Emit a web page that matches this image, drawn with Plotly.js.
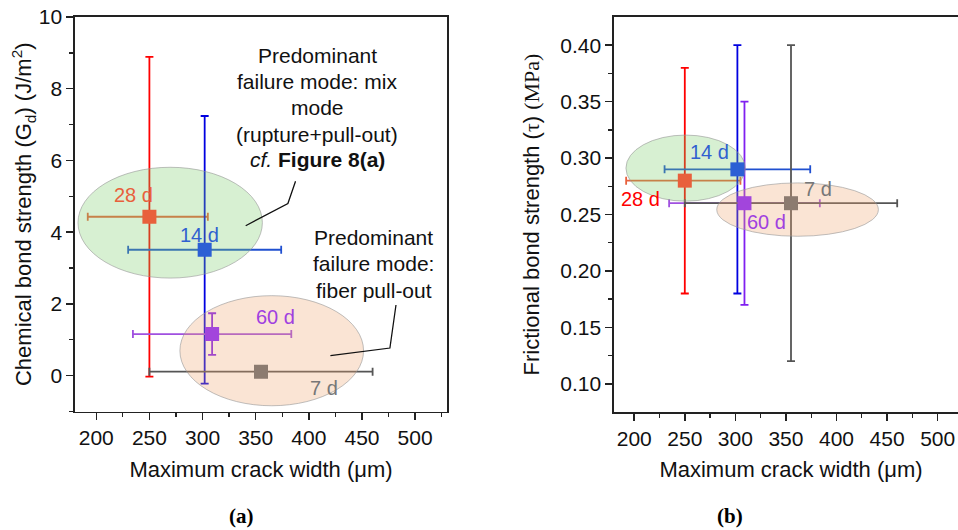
<!DOCTYPE html>
<html>
<head>
<meta charset="utf-8">
<script src="https://cdn.plot.ly/plotly-3.0.1.min.js"></script>
<style>
html,body{margin:0;padding:0;overflow:hidden;background:#fff;}
#wrap{position:relative;width:980px;height:530px;}
#chart,#top{position:absolute;left:0;top:0;width:980px;height:530px;}
#top{pointer-events:none;}
</style>
</head>
<body>
<div id="wrap"><div id="chart"></div><div id="top"></div></div>
<script>
// ---- data ----
var ages = ['28 d', '14 d', '60 d', '7 d'];
var crackWidth = [250, 302, 309, 355];
var crackErrPlus = [55, 72, 74.5, 105];
var crackErrMinus = [58, 72, 74.5, 105];
var chemBond = [4.43, 3.51, 1.16, 0.11];
var chemBondErr = [4.46, 3.73, 0.58, 0];
var fricBond = [0.28, 0.29, 0.26, 0.26];
var fricBondErr = [0.10, 0.11, 0.09, 0.14];

var markerColors = ['#e8603c', '#2c5fd4', '#a245dc', '#8c7b70'];
var errYColors = ['#ff0000', '#0000e0', '#8020f0', '#555555'];
var errXColors = ['#e8603c', '#2050d0', '#a050e0', '#555555'];
var labelColorsA = ['#e8603c', '#3060d0', '#a040e0', '#777777'];
var labelColorsB = ['#ff0000', '#3060d0', '#a040e0', '#777777'];

// label positions (data coords)
var labelXA = [235, 297.5, 368.7, 414.7];
var labelYA = [5.05, 3.93, 1.63, -0.35];
var labelXB = [206.6, 274.4, 331, 381.8];
var labelYB = [0.2634, 0.305, 0.2434, 0.273];

// ellipses [x0,x1,y0,y1]
var ellipseGreenA = [182.8, 356.3, 2.72, 5.81];
var ellipseOrangeA = [278.7, 451.5, -0.84, 2.23];
var ellipseGreenB = [191.8, 309.8, 0.2618, 0.3204];
var ellipseOrangeB = [281.6, 441.4, 0.2307, 0.278];

// leader lines
var leader1X = [340.6, 380.3, 387.5];
var leader1Y = [4.18, 4.80, 5.42];
var leader2X = [420.3, 476.3, 482];
var leader2Y = [0.56, 0.77, 1.97];

// note texts, one entry per line
var note1Lines = ['Predominant', 'failure mode: mix', 'mode', '(rupture+pull-out)', '<i>cf.</i> <b>Figure 8(a)</b>'];
var note1X = 408;
var note1Y = [8.92, 8.21, 7.47, 6.72, 6.02];
var note2Lines = ['Predominant', 'failure mode:', 'fiber pull-out'];
var note2X = 461;
var note2Y = [3.84, 3.12, 2.37];

var W = 980, H = 530;
var FONT = 'Liberation Sans, Arial, sans-serif';

// ---- bottom layer: error bars, axes, ellipses ----
var traces = [];
var markerTraces = [];
for (var i = 0; i < ages.length; i++) {
  traces.push({
    type: 'scatter', mode: 'markers', name: ages[i],
    x: [crackWidth[i]], y: [chemBond[i]], xaxis: 'x', yaxis: 'y',
    marker: {symbol: 'square', size: 14, color: 'rgba(0,0,0,0)'},
    error_x: {type: 'data', symmetric: false, array: [crackErrPlus[i]], arrayminus: [crackErrMinus[i]], color: errXColors[i], thickness: 1.8, width: 4},
    error_y: {type: 'data', array: [chemBondErr[i]], color: errYColors[i], thickness: 1.8, width: 4, visible: chemBondErr[i] > 0},
    showlegend: false, hoverinfo: 'none'
  });
  traces.push({
    type: 'scatter', mode: 'markers', name: ages[i],
    x: [crackWidth[i]], y: [fricBond[i]], xaxis: 'x2', yaxis: 'y2',
    marker: {symbol: 'square', size: 14, color: 'rgba(0,0,0,0)'},
    error_x: {type: 'data', symmetric: false, array: [crackErrPlus[i]], arrayminus: [crackErrMinus[i]], color: errXColors[i], thickness: 1.8, width: 4},
    error_y: {type: 'data', array: [fricBondErr[i]], color: errYColors[i], thickness: 1.8, width: 4},
    showlegend: false, hoverinfo: 'none'
  });
  markerTraces.push({
    type: 'scatter', mode: 'markers', name: ages[i],
    x: [crackWidth[i]], y: [chemBond[i]], xaxis: 'x', yaxis: 'y',
    marker: {symbol: 'square', size: 14, color: markerColors[i]},
    showlegend: false, hoverinfo: 'none'
  });
  markerTraces.push({
    type: 'scatter', mode: 'markers', name: ages[i],
    x: [crackWidth[i]], y: [fricBond[i]], xaxis: 'x2', yaxis: 'y2',
    marker: {symbol: 'square', size: 14, color: markerColors[i]},
    showlegend: false, hoverinfo: 'none'
  });
}

function ell(e, xr, yr, fill) {
  return {type: 'circle', xref: xr, yref: yr, x0: e[0], x1: e[1], y0: e[2], y1: e[3],
    fillcolor: fill, line: {color: 'rgba(150,150,150,0.6)', width: 1}, layer: 'above'};
}
function pathOf(xs, ys) {
  var p = 'M' + xs[0] + ',' + ys[0];
  for (var k = 1; k < xs.length; k++) p += ' L' + xs[k] + ',' + ys[k];
  return p;
}
var GREEN = 'rgba(122,205,105,0.3)';
var ORANGE = 'rgba(238,165,112,0.3)';
var shapes = [
  ell(ellipseGreenA, 'x', 'y', GREEN),
  ell(ellipseOrangeA, 'x', 'y', ORANGE),
  ell(ellipseGreenB, 'x2', 'y2', GREEN),
  ell(ellipseOrangeB, 'x2', 'y2', ORANGE),
  {type: 'path', xref: 'x', yref: 'y', path: pathOf(leader1X, leader1Y), line: {color: '#111', width: 1.3}, layer: 'above'},
  {type: 'path', xref: 'x', yref: 'y', path: pathOf(leader2X, leader2Y), line: {color: '#111', width: 1.3}, layer: 'above'}
];

var annotations = [];
for (var j = 0; j < ages.length; j++) {
  annotations.push({xref: 'x', yref: 'y', x: labelXA[j], y: labelYA[j], text: ages[j], showarrow: false,
    font: {family: FONT, size: 20, color: labelColorsA[j]}});
  annotations.push({xref: 'x2', yref: 'y2', x: labelXB[j], y: labelYB[j], text: ages[j], showarrow: false,
    font: {family: FONT, size: 20, color: labelColorsB[j]}});
}
for (var a = 0; a < note1Lines.length; a++) {
  annotations.push({xref: 'x', yref: 'y', x: note1X, y: note1Y[a], text: note1Lines[a], showarrow: false,
    font: {family: FONT, size: 21, color: '#111'}});
}
for (var b = 0; b < note2Lines.length; b++) {
  annotations.push({xref: 'x', yref: 'y', x: note2X, y: note2Y[b], text: note2Lines[b], showarrow: false,
    font: {family: FONT, size: 21, color: '#111'}});
}
annotations.push({xref: 'paper', yref: 'paper', x: 227 / W, y: 1 - 516 / H, yanchor: 'middle', text: '<b>(a)</b>', showarrow: false,
  font: {family: 'Liberation Serif, Times New Roman, serif', size: 21, color: '#000'}});
annotations.push({xref: 'paper', yref: 'paper', x: 745 / W, y: 1 - 516 / H, yanchor: 'middle', text: '<b>(b)</b>', showarrow: false,
  font: {family: 'Liberation Serif, Times New Roman, serif', size: 21, color: '#000'}});

var XRANGE = [180, 530];
var Y1RANGE = [-1, 10];
var Y2RANGE = [0.075, 0.425];
var XD1 = [75 / W, 447 / W], XD2 = [614 / W, 968 / W];
var YD1 = [1 - 411.5 / H, 1 - 17 / H], YD2 = [1 - 412 / H, 1 - 17 / H];

function xax(domain, anchor) {
  return {
    domain: domain, anchor: anchor, range: XRANGE,
    tickmode: 'linear', tick0: 200, dtick: 50,
    ticks: 'outside', ticklen: 7, tickwidth: 1.5, tickcolor: '#222',
    minor: {ticks: 'outside', ticklen: 4, tickwidth: 1.3, tickcolor: '#222', dtick: 25, tick0: 200, showgrid: false},
    showline: true, linecolor: '#222', linewidth: 1.6, mirror: true,
    showgrid: false, zeroline: false,
    tickfont: {family: FONT, size: 21, color: '#111'},
    title: {text: 'Maximum crack width (\u03bcm)', font: {family: FONT, size: 22, color: '#111'}, standoff: 13}
  };
}

var yaxis = {
  domain: YD1, anchor: 'x', range: Y1RANGE,
  tickmode: 'array', tickvals: [0, 2, 4, 6, 8, 10], ticktext: ['0', '2', '4', '6', '8', '10'],
  ticks: 'outside', ticklen: 7, tickwidth: 1.5, tickcolor: '#222',
  minor: {ticks: 'outside', ticklen: 4, tickwidth: 1.3, tickcolor: '#222', tickvals: [-1, 1, 3, 5, 7, 9], showgrid: false},
  showline: true, linecolor: '#222', linewidth: 1.6, mirror: true,
  showgrid: false, zeroline: false,
  tickfont: {family: FONT, size: 21, color: '#111'},
  title: {text: 'Chemical bond strength (G<sub>d</sub>) (J/m<sup>2</sup>)', font: {family: FONT, size: 22, color: '#111'}, standoff: 1}
};
var yaxis2 = {
  domain: YD2, anchor: 'x2', range: Y2RANGE,
  tickmode: 'array', tickvals: [0.10, 0.15, 0.20, 0.25, 0.30, 0.35, 0.40],
  ticktext: ['0.10', '0.15', '0.20', '0.25', '0.30', '0.35', '0.40'],
  ticks: 'outside', ticklen: 7, tickwidth: 1.5, tickcolor: '#222',
  minor: {ticks: 'outside', ticklen: 4, tickwidth: 1.3, tickcolor: '#222', tickvals: [0.125, 0.175, 0.225, 0.275, 0.325, 0.375], showgrid: false},
  showline: true, linecolor: '#222', linewidth: 1.6, mirror: true,
  showgrid: false, zeroline: false,
  tickfont: {family: FONT, size: 21, color: '#111'},
  title: {text: 'Frictional bond strength (<span style="font-family:Liberation Serif">\u03c4</span>) <span style="font-family:Liberation Serif">(MPa)</span>', font: {family: FONT, size: 22, color: '#111'}, standoff: 14}
};

var layout = {
  width: W, height: H,
  margin: {l: 0, r: 0, t: 0, b: 0, autoexpand: false},
  paper_bgcolor: '#fff', plot_bgcolor: '#fff',
  xaxis: xax(XD1, 'y'), yaxis: yaxis, xaxis2: xax(XD2, 'y2'), yaxis2: yaxis2,
  shapes: shapes, showlegend: false
};
Plotly.newPlot('chart', traces, layout, {displayModeBar: false, staticPlot: true});

// ---- top layer: markers and texts above the translucent ellipses ----
function hiddenAx(domain, anchor, range) {
  return {domain: domain, anchor: anchor, range: range, visible: false, showgrid: false, zeroline: false, fixedrange: true};
}
var topLayout = {
  width: W, height: H,
  margin: {l: 0, r: 0, t: 0, b: 0, autoexpand: false},
  paper_bgcolor: 'rgba(0,0,0,0)', plot_bgcolor: 'rgba(0,0,0,0)',
  xaxis: hiddenAx(XD1, 'y', XRANGE), yaxis: hiddenAx(YD1, 'x', Y1RANGE),
  xaxis2: hiddenAx(XD2, 'y2', XRANGE), yaxis2: hiddenAx(YD2, 'x2', Y2RANGE),
  annotations: annotations, showlegend: false
};
Plotly.newPlot('top', markerTraces, topLayout, {displayModeBar: false, staticPlot: true});
</script>
</body>
</html>
